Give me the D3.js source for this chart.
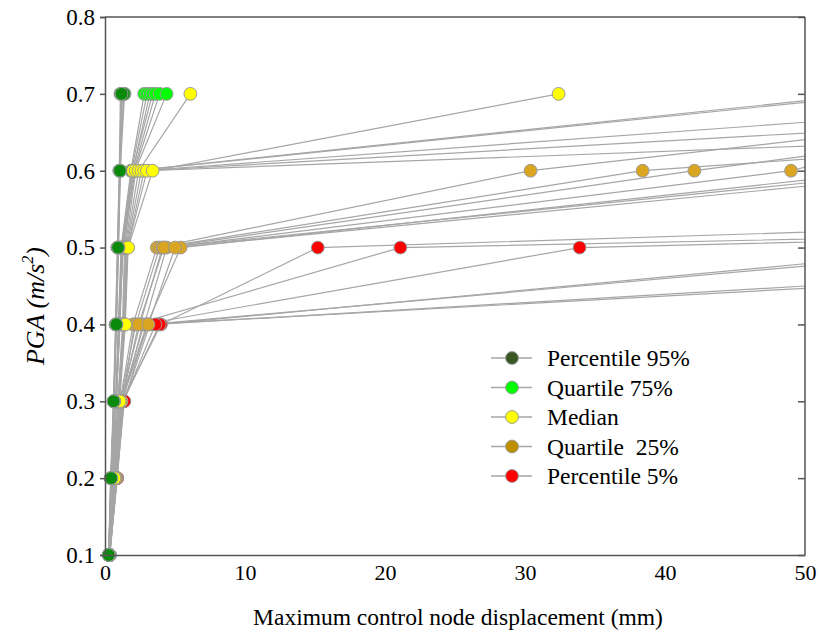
<!DOCTYPE html>
<html>
<head>
<meta charset="utf-8">
<script src="https://cdn.jsdelivr.net/npm/d3@7"></script>
<style>
  html, body { margin: 0; padding: 0; background: #fff; }
  svg { display: block; }
  svg text { font-family: "Liberation Serif", "Times New Roman", Times, "DejaVu Serif", serif !important; fill: #000; }
</style>
</head>
<body>
<svg id="chart" width="819" height="634"></svg>
<script>
// ---------------- DATA ----------------
const pgaLevels = [0.1, 0.2, 0.3, 0.4, 0.5, 0.6, 0.7];
const xTicks = [0, 10, 20, 30, 40, 50];
const yTicks = [0.1, 0.2, 0.3, 0.4, 0.5, 0.6, 0.7, 0.8];

// displacement (mm) of each curve at each PGA level (null = no point)
const percentile95 = [
  [0.26, 0.42, 0.62, 0.78, 0.92, 1.05, 1.15],
  [0.27, 0.44, 0.64, 0.80, 0.95, 1.08, 1.40],
  [0.26, 0.40, 0.60, 0.75, 0.88, 1.02, 1.10],
  [0.28, 0.45, 0.66, 0.82, 0.97, 1.10, 1.25],
  [0.27, 0.43, 0.63, 0.79, 0.93, 1.06, 1.20],
  [0.28, 0.41, 0.65, 0.77, 0.90, 1.04, 1.35],
  [0.26, 0.44, 0.61, 0.81, 0.94, 1.07, 1.18]
];
const quartile75 = [
  [0.28, 0.50, 0.75, 0.95, 1.15, 1.85, 2.8],
  [0.29, 0.52, 0.78, 1.00, 1.20, 1.90, 3.0],
  [0.28, 0.55, 0.80, 1.05, 1.25, 2.00, 3.2],
  [0.30, 0.53, 0.77, 0.98, 1.18, 1.95, 3.4],
  [0.29, 0.51, 0.82, 1.02, 1.28, 2.05, 3.6],
  [0.28, 0.54, 0.79, 1.08, 1.22, 2.10, 3.9],
  [0.30, 0.56, 0.81, 1.04, 1.30, 2.15, 4.4]
];
const median = [
  [0.30, 0.60, 0.92, 1.25, 1.40, 2.0, 54.7],
  [0.31, 0.62, 0.95, 1.30, 1.45, 2.2, 55.9],
  [0.30, 0.63, 0.98, 1.35, 1.50, 2.4, 6.1],
  [0.31, 0.65, 1.00, 1.40, 1.55, 2.6, 77.8],
  [0.31, 0.64, 1.02, 1.38, 1.60, 2.8, 99.1],
  [0.32, 0.66, 0.97, 1.42, 1.62, 3.0, 150],
  [0.32, 0.67, 1.05, 1.45, 1.65, 3.4, 32.4]
];
const quartile25 = [
  [0.31, 0.70, 1.08, 2.0, 3.7, 30.4, 79],
  [0.32, 0.72, 1.10, 2.2, 3.9, 38.4, 116],
  [0.32, 0.74, 1.12, 2.5, 4.1, 42.1, 84],
  [0.31, 0.73, 1.15, 2.8, 4.4, 49.0, 70],
  [0.33, 0.75, 1.13, 3.0, 5.4, 56.2, 150],
  [0.32, 0.76, 1.18, 2.4, 4.2, 58.7, 160],
  [0.33, 0.78, 1.16, 3.1, 5.0, 61.4, 170]
];
const percentile5 = [
  [0.33, 0.80, 1.22, 4.0, 15.2, 189, null],
  [0.33, 0.82, 1.25, 2.1, 21.1, 284, null],
  [0.34, 0.85, 1.28, 2.7, 33.9, 264, null],
  [0.34, 0.83, 1.30, 3.9, 62.3, 300, null],
  [0.33, 0.86, 1.35, 3.2, 64.8, 320, null],
  [0.34, 0.88, 1.32, 3.6, 96.4, 350, null],
  [0.34, 0.84, 1.38, 3.0, 103, 380, null]
];

const seriesNames = ["Percentile 95%", "Quartile 75%", "Median", "Quartile  25%", "Percentile 5%"];
const seriesData = [percentile95, quartile75, median, quartile25, percentile5];
const markerColors = ["#0a8a0a", "#00ff00", "#ffff00", "#daa520", "#ff0000"];
const legendColors = ["#385723", "#00ff00", "#ffff00", "#bf8f00", "#ff0000"];

// ---------------- LAYOUT ----------------
const FONT = '"Liberation Serif", "Times New Roman", Times, "DejaVu Serif", serif';
const svg = d3.select("#chart");
const m = { left: 105, top: 17, right: 14, bottom: 79 };
const W = 819 - m.left - m.right;   // 700
const H = 634 - m.top - m.bottom;   // 538

const x = d3.scaleLinear().domain([0, 50]).range([0, W]);
const y = d3.scaleLinear().domain([0.1, 0.8]).range([H, 0]);

const g = svg.append("g").attr("transform", `translate(${m.left},${m.top})`);

svg.append("defs").append("clipPath").attr("id", "plotclip")
  .append("rect").attr("x", 0).attr("y", -10).attr("width", W).attr("height", H + 20);

// ---------------- LINES ----------------
const lineGen = d3.line()
  .defined(d => d.v != null)
  .x(d => x(d.v))
  .y(d => y(d.p));

const linesG = g.append("g").attr("clip-path", "url(#plotclip)");
seriesData.forEach(curves => {
  curves.forEach(c => {
    const pts = c.map((v, i) => ({ v, p: pgaLevels[i] }));
    linesG.append("path")
      .attr("d", lineGen(pts))
      .attr("fill", "none")
      .attr("stroke", "#a6a6a6")
      .attr("stroke-width", 1.2);
  });
});

// ---------------- MARKERS (drawn from 5% up to 95%) ----------------
const drawOrder = [4, 3, 1, 2, 0];
drawOrder.forEach(si => {
  const pts = [];
  seriesData[si].forEach(c => c.forEach((v, i) => {
    if (v != null && v <= 50) pts.push({ v, p: pgaLevels[i] });
  }));
  g.append("g").selectAll("circle").data(pts).join("circle")
    .attr("cx", d => x(d.v))
    .attr("cy", d => y(d.p))
    .attr("r", 6.4)
    .attr("fill", markerColors[si])
    .attr("stroke", "#9a9a9a")
    .attr("stroke-width", 1);
});

// ---------------- AXES / FRAME ----------------
const axisColor = "#555";
g.append("line").attr("x1", 0).attr("x2", W).attr("y1", 0).attr("y2", 0).attr("stroke", axisColor).attr("stroke-width", 1.5);
g.append("line").attr("x1", W).attr("x2", W).attr("y1", 0).attr("y2", H).attr("stroke", axisColor).attr("stroke-width", 1.5);

const yAxis = d3.axisLeft(y).tickValues(yTicks).tickFormat(d3.format(".1f")).tickSize(5).tickPadding(5);
const yg = g.append("g").call(yAxis).attr("font-family", FONT);
yg.select(".domain").attr("stroke", axisColor).attr("stroke-width", 1.5);
yg.selectAll(".tick line").attr("stroke", axisColor).attr("stroke-width", 1.5);
yg.selectAll(".tick text").attr("font-size", 23).attr("font-family", FONT);

const yRight = d3.axisLeft(y).tickValues(yTicks).tickSize(7).tickFormat("");
const yrg = g.append("g").attr("transform", `translate(${W},0)`).call(yRight);
yrg.select(".domain").remove();
yrg.selectAll(".tick line").attr("stroke", axisColor).attr("stroke-width", 1.5);

const xAxis = d3.axisBottom(x).tickValues(xTicks).tickFormat(d3.format("d")).tickSize(0).tickPadding(9);
const xg = g.append("g").attr("transform", `translate(0,${H})`).call(xAxis).attr("font-family", FONT);
xg.select(".domain").attr("stroke", axisColor).attr("stroke-width", 1.5);
xg.selectAll(".tick text").attr("font-size", 22).attr("font-family", FONT);

// axis titles
svg.append("text")
  .attr("x", m.left + W / 2 + 3).attr("y", 625)
  .attr("text-anchor", "middle")
  .attr("font-family", FONT)
  .attr("font-size", 23.5)
  .text("Maximum control node displacement (mm)");

const yt = svg.append("text")
  .attr("transform", `translate(44,${m.top + H / 2 + 20}) rotate(-90)`)
  .attr("text-anchor", "middle")
  .attr("font-family", FONT)
  .attr("font-size", 26)
  .attr("font-style", "italic");
yt.append("tspan").text("PGA (m/s");
yt.append("tspan").attr("font-size", 16).attr("dy", -11).text("2");
yt.append("tspan").attr("dy", 11).text(")");

// ---------------- LEGEND ----------------
const legend = svg.append("g");
const legY0 = 358, legDy = 29.5;
seriesNames.forEach((name, i) => {
  const yy = legY0 + i * legDy;
  legend.append("line").attr("x1", 491).attr("x2", 532).attr("y1", yy).attr("y2", yy)
    .attr("stroke", "#a6a6a6").attr("stroke-width", 1.5);
  legend.append("circle").attr("cx", 512).attr("cy", yy).attr("r", 6.4)
    .attr("fill", legendColors[i]).attr("stroke", "#9a9a9a").attr("stroke-width", 1);
  legend.append("text").attr("x", 547).attr("y", yy).attr("dy", "0.35em")
    .attr("font-family", FONT)
    .attr("font-size", 23.5)
    .style("white-space", "pre")
    .text(name);
});
</script>
</body>
</html>
